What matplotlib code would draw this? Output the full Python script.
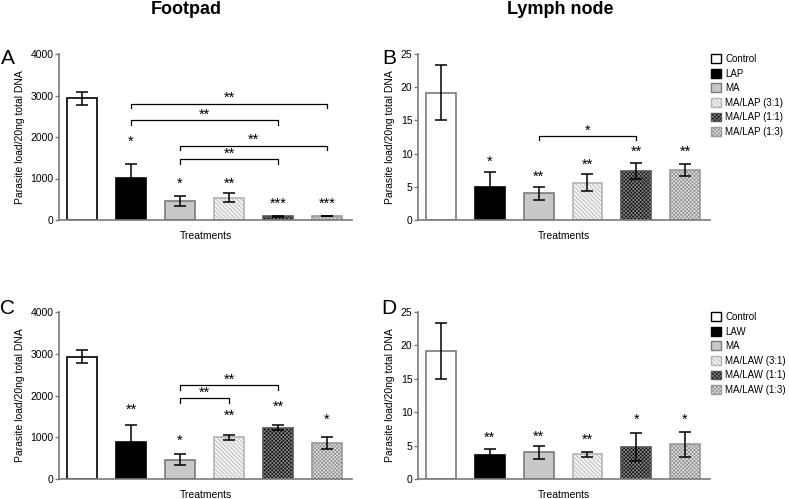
import numpy as np
import matplotlib
matplotlib.use("Agg")
import matplotlib.pyplot as plt
from matplotlib.patches import Patch

plt.rcParams['font.family'] = ['Liberation Sans', 'DejaVu Sans']
plt.rcParams['hatch.linewidth'] = 0.5

# data
groups_lap = ['Control', 'LAP', 'MA', 'MA/LAP (3:1)', 'MA/LAP (1:1)', 'MA/LAP (1:3)']
groups_law = ['Control', 'LAW', 'MA', 'MA/LAW (3:1)', 'MA/LAW (1:1)', 'MA/LAW (1:3)']

foot_lap = [2930, 1020, 460, 540, 90, 90]
foot_lap_err = [150, 340, 130, 100, 10, 5]
foot_lap_stars = ['', '*', '*', '**', '***', '***']
foot_lap_star_y = [0, 1880, 880, 880, 380, 380]
foot_lap_brackets = [(1, 5, 2800, '**'), (1, 4, 2400, '**'), (2, 5, 1790, '**'), (2, 4, 1460, '**')]

lymph_lap = [19.2, 4.9, 4.0, 5.6, 7.4, 7.6]
lymph_lap_err = [4.2, 2.4, 1.0, 1.3, 1.2, 0.9]
lymph_lap_stars = ['', '*', '**', '**', '**', '**']
lymph_lap_star_y = [0, 8.7, 6.5, 8.3, 10.2, 10.2]
lymph_lap_brackets = [(2, 4, 12.6, '*')]

foot_law = [2930, 890, 460, 1000, 1230, 870]
foot_law_err = [150, 400, 130, 60, 60, 140]
foot_law_stars = ['', '**', '*', '**', '**', '*']
foot_law_star_y = [0, 1660, 920, 1520, 1720, 1420]
foot_law_brackets = [(2, 4, 2240, '**'), (2, 3, 1930, '**')]

lymph_law = [19.2, 3.6, 4.0, 3.7, 4.8, 5.2]
lymph_law_err = [4.2, 0.9, 1.0, 0.35, 2.1, 1.9]
lymph_law_stars = ['', '**', '**', '**', '*', '*']
lymph_law_star_y = [0, 6.2, 6.3, 5.9, 8.8, 8.8]

# fill, edge, hatch, hatch colour
styles = [
    ('white', 'black', None, None),
    ('black', 'black', None, None),
    ('#c8c8c8', '#7a7a7a', None, None),
    ('#f2f2f2', '#b4b4b4', '\\\\\\\\\\\\\\\\', '#b0b0b0'),
    ('#101010', '#555555', 'xxxxxxxxx', '#8a8a8a'),
    ('#e4e4e4', '#9a9a9a', 'xxxxxxxxx', '#8c8c8c'),
]

W, H = 789, 499
fig = plt.figure(figsize=(W / 100, H / 100), dpi=100)


def px_axes(left, top, right, bottom):
    return fig.add_axes([left / W, 1 - bottom / H, (right - left) / W, (bottom - top) / H])


def draw_panel(ax, vals, errs, ymax, step, stars, star_y, brackets, ctrl_edge):
    x = np.arange(len(vals))
    for i, v in enumerate(vals):
        fc, ec, hatch, hc = styles[i]
        if i == 0:
            ec = ctrl_edge
        if hatch:
            ax.bar(x[i], v, width=0.61, color=fc, edgecolor=hc, hatch=hatch, linewidth=0, zorder=2)
            ax.bar(x[i], v, width=0.61, fill=False, edgecolor=ec, linewidth=1.2, zorder=2)
        else:
            ax.bar(x[i], v, width=0.61, color=fc, edgecolor=ec, linewidth=1.2, zorder=2)
    ax.errorbar(x, vals, yerr=errs, fmt='none', ecolor='black', elinewidth=1.1,
                capsize=4.5, capthick=1.1, zorder=3)
    for i, s in enumerate(stars):
        if s:
            ax.text(x[i], star_y[i], s, ha='center', va='center', fontsize=10.5)
    tick = ymax * 0.025
    for a, b, y, s in brackets:
        ax.plot([a, a, b, b], [y - tick, y, y, y - tick], color='black', lw=0.9, zorder=3)
        ax.text((a + b) / 2, y + ymax * 0.035, s, ha='center', va='center', fontsize=10.5)
    ax.set_xlim(-0.47, 5.51)
    ax.set_ylim(0, ymax)
    ax.set_yticks(np.arange(0, ymax + step / 2, step))
    ax.set_xticks([])
    for sp in ['top', 'right']:
        ax.spines[sp].set_visible(False)
    for sp in ['left', 'bottom']:
        ax.spines[sp].set_color('#7a7a7a')
        ax.spines[sp].set_linewidth(1.2)
    ax.tick_params(axis='y', direction='out', length=3, width=1, color='#7a7a7a',
                   labelsize=7.5, pad=1)
    ax.set_ylabel('Parasite load/20ng total DNA', fontsize=7.5, labelpad=4)
    ax.set_xlabel('Treatments', fontsize=7.5, labelpad=8)


def add_legend(labels, top):
    handles = []
    for i, lab in enumerate(labels):
        fc, ec, hatch, hc = styles[i]
        if hatch:
            h = (Patch(facecolor=fc, edgecolor=hc, hatch=hatch, linewidth=0),
                 Patch(fill=False, edgecolor=ec, linewidth=1))
        else:
            h = Patch(facecolor=fc, edgecolor=ec if i != 0 else 'black', linewidth=1)
        handles.append(h)
    fig.legend(handles, labels, loc='upper left', bbox_to_anchor=(711 / W, 1 - top / H),
               frameon=False, fontsize=7.0, handlelength=1.05, handleheight=1.0,
               handletextpad=0.4, labelspacing=0.47, borderpad=0, borderaxespad=0)


axA = px_axes(59, 54, 352, 220)
draw_panel(axA, foot_lap, foot_lap_err, 4000, 1000, foot_lap_stars, foot_lap_star_y,
           foot_lap_brackets, 'black')
axB = px_axes(418, 54, 710, 220)
draw_panel(axB, lymph_lap, lymph_lap_err, 25, 5, lymph_lap_stars, lymph_lap_star_y,
           lymph_lap_brackets, '#7a7a7a')
axC = px_axes(59, 312, 352, 479)
draw_panel(axC, foot_law, foot_law_err, 4000, 1000, foot_law_stars, foot_law_star_y,
           foot_law_brackets, 'black')
axD = px_axes(418, 312, 710, 479)
draw_panel(axD, lymph_law, lymph_law_err, 25, 5, lymph_law_stars, lymph_law_star_y,
           [], '#7a7a7a')

add_legend(groups_lap, 54)
add_legend(groups_law, 312)

fig.text(186 / W, 1 - 9 / H, 'Footpad', ha='center', va='center', fontsize=13, fontweight='bold')
fig.text(560 / W, 1 - 9 / H, 'Lymph node', ha='center', va='center', fontsize=13, fontweight='bold')
for lab, xx, yy in [('A', 8, 58), ('B', 389, 58), ('C', 8, 308), ('D', 389, 308)]:
    fig.text(xx / W, 1 - yy / H, lab, ha='center', va='center', fontsize=15)

fig.savefig('out.png', dpi=100)
